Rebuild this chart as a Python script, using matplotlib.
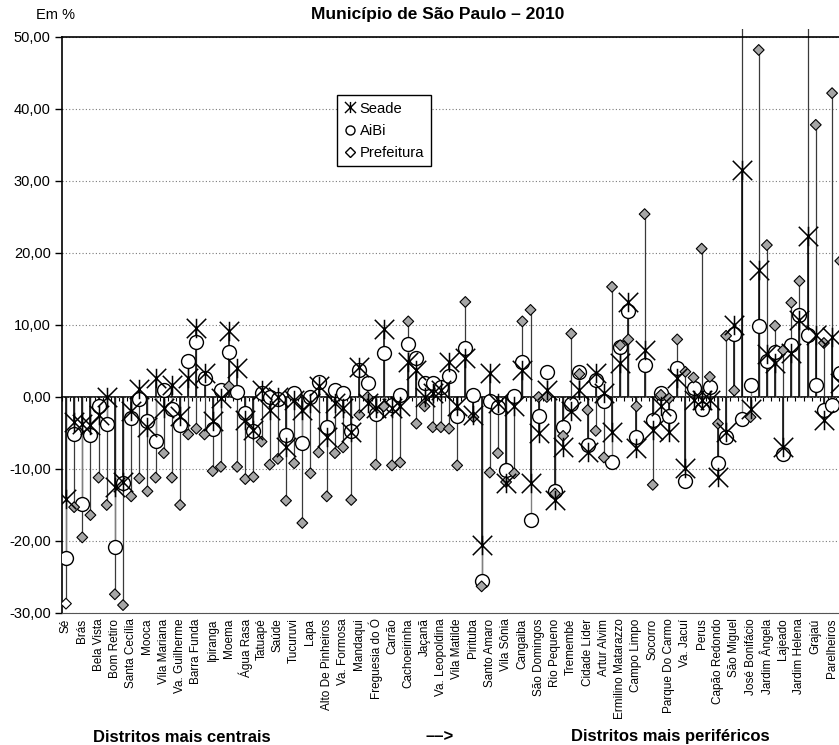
import numpy as np
import matplotlib
matplotlib.use('Agg')
import matplotlib.pyplot as plt
from matplotlib.path import Path
from matplotlib.lines import Line2D
from matplotlib.patches import Rectangle
from matplotlib.ticker import FuncFormatter

plt.rcParams['font.family'] = ['Liberation Sans', 'DejaVu Sans']

# district labels (every other district is labelled on the axis)
distritos = ['Sé', 'Brás', 'Bela Vista', 'Bom Retiro', 'Santa Cecília', 'Mooca',
             'Vila Mariana', 'Va. Guilherme', 'Barra Funda', 'Ipiranga', 'Moema',
             'Água Rasa', 'Tatuapé', 'Saúde', 'Tucuruvi', 'Lapa', 'Alto De Pinheiros',
             'Va. Formosa', 'Mandaqui', 'Freguesia do Ó', 'Carrão', 'Cachoeirinha',
             'Jaçanã', 'Va. Leopoldina', 'Vila Matilde', 'Pirituba', 'Santo Amaro',
             'Vila Sônia', 'Cangaiba', 'São Domingos', 'Rio Pequeno', 'Tremembé',
             'Cidade Líder', 'Artur Alvim', 'Ermilino Matarazzo', 'Campo Limpo',
             'Socorro', 'Parque Do Carmo', 'Va. Jacuí', 'Perus', 'Capão Redondo',
             'São Miguel', 'José Bonifácio', 'Jardim Ângela', 'Lajeado',
             'Jardim Helena', 'Grajaú', 'Parelheiros']

seade = [-14.1, -3.5, -3.7, -3.9, -2.5, 0.0, -12.5, -11.8, -2.0, 1.1,
         -4.2, 2.7, -1.5, 1.7, -2.6, 2.7, 9.6, 3.4, -3.4, -0.2,
         9.2, 4.0, -3.2, -4.6, 1.0, -1.8, 0.0, -6.9, -0.4, -1.8,
         -0.8, 1.5, -5.5, -0.9, -1.5, -4.8, 4.2, -0.9, -1.5, 9.5,
         -1.5, -1.3, 4.9, 3.7, 0.0, 0.5, 1.0, 4.9, -1.3, 5.4,
         -2.5, -20.6, 3.3, -0.8, -12.0, -1.3, 3.7, -12.0, -5.0, 1.0,
         -14.3, -6.9, -2.0, 1.0, -7.6, 3.3, 0.5, -4.8, 4.7, 13.2,
         -7.1, 6.5, -4.6, -1.3, -4.8, 2.6, -9.9, -0.4, -0.4, -0.4,
         -11.1, -4.8, 10.0, 31.5, -1.6, 17.6, 6.0, 4.7, -6.9, 6.1,
         10.7, 22.4, 8.6, -3.2, 8.4, 2.0]

aibi = [-22.4, -5.1, -14.9, -5.3, -1.2, -3.7, -20.9, -12.0, -2.9, -0.3,
        -3.4, -6.1, 1.0, -1.6, -3.9, 5.0, 7.7, 2.7, -4.5, 1.0,
        6.3, 0.7, -2.2, -4.7, 0.6, 0.0, -0.3, -5.3, 0.6, -6.4,
        0.0, 2.1, -4.1, 1.0, 0.5, -4.7, 3.7, 2.0, -2.3, 6.1,
        -1.1, 0.3, 7.3, 5.4, 1.9, 1.9, 1.4, 2.9, -2.7, 6.8,
        0.3, -25.6, -0.6, -1.4, -10.1, 0.1, 4.9, -17.1, -2.6, 3.5,
        -13.1, -4.1, -1.0, 3.5, -6.7, 2.3, -0.6, -9.0, 7.0, 12.0,
        -5.5, 4.4, -3.2, 0.6, -2.7, 4.0, -11.6, 1.2, -1.6, 1.4,
        -9.1, -5.5, 8.8, -3.1, 1.7, 9.8, 5.0, 6.3, -7.9, 7.2,
        11.4, 8.6, 1.7, -1.8, -1.1, 3.3]

prefeitura = [-28.7, -15.3, -19.5, -16.4, -11.2, -15.0, -27.4, -28.9, -13.8, -11.3,
              -13.1, -11.2, -7.8, -11.2, -15.0, -5.2, -4.4, -5.2, -10.3, -9.7,
              1.5, -9.7, -11.4, -11.1, -6.2, -9.4, -8.6, -14.4, -9.2, -17.5,
              -10.6, -7.7, -13.8, -7.8, -7.0, -14.3, -2.5, 0.0, -9.4, -1.3,
              -9.5, -9.1, 10.5, -3.7, -1.3, -4.2, -4.2, -4.4, -9.5, 13.2,
              -2.8, -26.3, -10.5, -7.8, -11.8, -10.6, 10.5, 12.1, 0.0, 0.0,
              -13.4, -5.4, 8.8, 3.2, -1.8, -4.7, -8.4, 15.3, 7.2, 8.0,
              -1.3, 25.4, -12.2, 0.3, -0.2, 8.0, 3.5, 2.7, 20.6, 2.8,
              -3.7, 8.5, 0.9, 60.0, -2.8, 48.2, 21.1, 9.9, 6.5, 13.1,
              16.1, 60.0, 37.8, 7.5, 42.2, 18.9]

x = np.arange(len(seade))

W, H = 839, 745
fig = plt.figure(figsize=(W / 100, H / 100), dpi=100)
ax = fig.add_axes([61.9 / W, 1 - 613 / H, 782.4 / W, 576 / H])
ax.set_xlim(-0.5, 95.5)
ax.set_ylim(-30, 50)

# stems from the zero line, allowed to run a little above the plot area
clip = Rectangle((0, -0.01), 1, 1.024, transform=ax.transAxes, visible=False)
ax.add_patch(clip)
for vals, col, lw in [(prefeitura, '#3a3a3a', 0.9), (aibi, '#808080', 1.0), (seade, 'black', 1.1)]:
    lc = ax.vlines(x, 0, vals, colors=col, linewidth=lw, zorder=2)
    lc.set_clip_path(clip)

star = Path([(-1, -1), (1, 1), (-1, 1), (1, -1), (0, -1), (0, 1)],
            [Path.MOVETO, Path.LINETO] * 3)

ax.plot(x, aibi, 'o', ms=10, mfc='white', mec='black', mew=1.0, zorder=3)
diam_fc = ['white'] + ['#a6a6a6'] * (len(x) - 1)
ax.scatter(x, prefeitura, marker='D', s=30, c=diam_fc, edgecolors='black',
           linewidths=0.8, zorder=4)
ax.plot(x, seade, ls='none', marker=star, ms=14, mfc='none', mec='black',
        mew=1.1, zorder=5)

# axes styling
ax.set_yticks(range(-30, 51, 10))
ax.yaxis.set_major_formatter(FuncFormatter(lambda v, p: f'{v:.2f}'.replace('.', ',')))
ax.tick_params(axis='y', length=5, width=1, labelsize=10.5, pad=3)
ax.yaxis.grid(True, linestyle=(0, (1, 2)), color='#7a7a7a', linewidth=0.8)
ax.set_axisbelow(True)

ax.set_xticks(x[::2])
ax.set_xticklabels(distritos, rotation=90, fontsize=8.5)
ax.tick_params(axis='x', length=0, pad=4)

ax.spines['right'].set_visible(False)
ax.spines['top'].set_linewidth(1.2)
ax.spines['left'].set_linewidth(1.2)
ax.spines['bottom'].set_linestyle((0, (1, 1)))
ax.spines['bottom'].set_color('#555555')

# zero line with category tick marks
zero = ax.secondary_xaxis(30 / 80)
zero.set_xticks(np.arange(-0.5, 96, 1))
zero.set_xticklabels([])
zero.tick_params(axis='x', direction='out', length=3, width=0.8)
zero.spines['bottom'].set_linewidth(1.2)

handles = [Line2D([], [], ls='none', marker=star, ms=8, mfc='none', mec='black', mew=1),
           Line2D([], [], ls='none', marker='o', ms=6.5, mfc='white', mec='black', mew=1),
           Line2D([], [], ls='none', marker='D', ms=5, mfc='white', mec='black', mew=1)]
leg = ax.legend(handles, ['Seade', 'AiBi', 'Prefeitura'], loc='upper left',
                bbox_to_anchor=(337 / W, 1 - 95 / H), bbox_transform=fig.transFigure,
                fancybox=False, framealpha=1, edgecolor='black', fontsize=10.6,
                handlelength=0.8, handletextpad=0.3, borderpad=0.45,
                labelspacing=0.55, borderaxespad=0)
leg.get_frame().set_linewidth(1)
leg.set_zorder(10)

fig.text(56 / W, 1 - 15 / H, 'Em %', ha='center', va='center', fontsize=10.5)
fig.text(438 / W, 1 - 15 / H, 'Município de São Paulo – 2010', ha='center',
         va='center', fontsize=12.5, fontweight='bold')
fig.text(182 / W, 1 - 737 / H, 'Distritos mais centrais', ha='center', va='center',
         fontsize=12, fontweight='bold')
fig.text(440 / W, 1 - 737 / H, '––>', ha='center', va='center', fontsize=12,
         fontweight='bold')
fig.text(670 / W, 1 - 737 / H, 'Distritos mais periféricos', ha='center', va='center',
         fontsize=12, fontweight='bold')

fig.savefig('out.png', dpi=100)
